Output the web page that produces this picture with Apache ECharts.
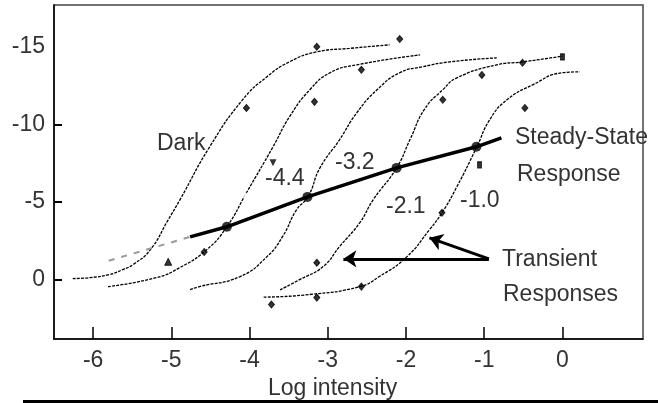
<!DOCTYPE html>
<html>
<head>
<meta charset="UTF-8">
<title>Steady-state and transient responses</title>
<script src="https://cdn.jsdelivr.net/npm/echarts@6/dist/echarts.min.js"></script>
<style>
  *{margin:0;padding:0}
  html,body{width:100%;height:100%;background:#fff}
  #main{width:658px;height:403px}
</style>
</head>
<body>
<div id="main"></div>
<script>
// points: [log intensity, response]
var darkCurve = [[-6.26,-0.05],[-6.04,-0.11],[-5.79,-0.31],[-5.62,-0.63],[-5.49,-0.95],[-5.27,-1.9],[-5.04,-3.84],[-4.89,-5.13],[-4.51,-8.55],[-4.09,-11.58],[-3.78,-13.06],[-3.49,-14.03],[-3.14,-14.68],[-2.72,-14.9],[-2.21,-15.13]];
var curve44 = [[-5.81,0.47],[-5.19,-0.11],[-4.89,-0.76],[-4.55,-1.9],[-4.29,-3.39],[-4.04,-5.58],[-3.7,-8.55],[-3.49,-10.48],[-3.23,-12.23],[-2.97,-13.33],[-2.63,-13.84],[-1.82,-14.48]];
var curve32 = [[-4.76,0.66],[-4.64,0.47],[-4.12,-0.18],[-3.78,-1.45],[-3.58,-2.74],[-3.4,-4.48],[-3.25,-5.35],[-3.1,-7.19],[-2.85,-9.0],[-2.63,-10.74],[-2.37,-12.23],[-2.08,-13.33],[-1.79,-13.71],[-1.44,-14.03],[-0.84,-14.29]];
var curve21 = [[-3.61,0.68],[-3.36,0.02],[-3.06,-0.82],[-2.85,-2.11],[-2.59,-3.66],[-2.42,-5.13],[-2.12,-7.19],[-1.95,-9.0],[-1.76,-11.0],[-1.53,-12.23],[-1.35,-13.0],[-0.84,-13.84],[-0.51,-14.03],[0.0,-14.4]];
var curve10 = [[-3.82,1.15],[-3.23,0.98],[-2.59,0.47],[-2.34,-0.18],[-1.99,-1.45],[-1.7,-3.2],[-1.54,-4.29],[-1.35,-5.97],[-1.1,-8.48],[-0.93,-10.29],[-0.71,-11.58],[-0.38,-12.55],[0.0,-13.33],[0.22,-13.39]];

var diamondPts = [[-4.58,-1.77],[-4.04,-11.06],[-3.14,-15.0],[-2.08,-15.5],[-3.17,-11.45],[-2.57,-13.52],[-3.14,-1.07],[-3.14,1.18],[-1.53,-11.58],[-1.03,-13.19],[-0.51,-13.97],[-0.48,-11.06],[-1.54,-4.29],[-2.57,0.47],[-3.72,1.63]];
var circlePts = [[-4.02,-5.32],[-3.7,-12.87]];
var triUpPts = [[-5.04,-1.13]];
var triDownPts = [[-3.7,-7.52]];
var squarePts = [[-1.06,-7.39],[0.0,-14.35]];

var steadyLine = [[-4.76,-2.74],[-4.29,-3.39],[-3.26,-5.32],[-2.12,-7.19],[-1.1,-8.55],[-0.78,-9.13]];
var steadyDots = [[-4.29,-3.39],[-3.26,-5.32],[-2.12,-7.19],[-1.1,-8.55]];
var steadyDashed = [[-5.8,-1.2],[-4.76,-2.74]];

var arrowStart = [-0.94,-1.32];
var arrowTips = [[-2.8,-1.32],[-1.7,-2.68]];

var xTicks = [-6,-5,-4,-3,-2,-1,0];
var yTicks = [-15,-10,-5,0];
var yTickMarks = [-10,-5,0];

var FONT = "'Liberation Sans', Arial, sans-serif";

function curve(data) {
  return {
    type: 'line', data: data, showSymbol: false, smooth: 0.5,
    lineStyle: {color: '#000', width: 1.3, type: [3, 1.2]}, z: 2
  };
}
function marks(data, symbol, size) {
  return {
    type: 'scatter', data: data, symbol: symbol, symbolSize: size,
    itemStyle: {color: '#000', borderColor: '#000', borderWidth: 1}, z: 3
  };
}
function label(text, x, y) {
  return {
    type: 'text', x: x, y: y,
    style: {text: text, font: '23px ' + FONT, fill: '#333', verticalAlign: 'middle', textVerticalAlign: 'middle'}
  };
}

var option = {
  animation: false,
  grid: {left: 54, top: 5, right: 15, bottom: 64, show: true, borderColor: '#444', borderWidth: 1.5},
  xAxis: {
    type: 'value', min: -6.5, max: 1.03,
    axisLine: {onZero: false, lineStyle: {color: '#000', width: 1.5}},
    axisTick: {inside: true, length: 12, customValues: xTicks, lineStyle: {color: '#000', width: 1.5}},
    axisLabel: {customValues: xTicks, margin: 10, fontSize: 23, color: '#333', fontFamily: FONT},
    splitLine: {show: false}
  },
  yAxis: {
    type: 'value', inverse: true, min: -17.7, max: 3.85,
    axisLine: {onZero: false, lineStyle: {color: '#000', width: 1.5}},
    axisTick: {inside: true, length: 8, customValues: yTickMarks, lineStyle: {color: '#000', width: 2}},
    axisLabel: {customValues: yTicks, margin: 9, fontSize: 23, color: '#333', fontFamily: FONT},
    splitLine: {show: false}
  },
  series: [
    curve(darkCurve), curve(curve44), curve(curve32), curve(curve21), curve(curve10),
    marks(diamondPts, 'diamond', [6, 7]),
    {type: 'scatter', data: circlePts, symbol: 'emptyCircle', symbolSize: 7,
     itemStyle: {color: '#fff', borderColor: '#000', borderWidth: 1.5}, z: 3},
    marks(triUpPts, 'triangle', 7),
    {type: 'scatter', data: triDownPts, symbol: 'triangle', symbolRotate: 180, symbolSize: 7,
     itemStyle: {color: '#000'}, z: 3},
    marks(squarePts, 'rect', [4, 6]),
    {type: 'line', data: steadyDashed, showSymbol: false,
     lineStyle: {color: '#999', width: 2, type: [6, 7]}, z: 2},
    {type: 'line', data: steadyLine, showSymbol: false,
     lineStyle: {color: '#000', width: 3.5}, z: 4},
    {type: 'scatter', data: steadyDots, symbol: 'circle', symbolSize: 10,
     itemStyle: {color: '#000'}, z: 5},
    {type: 'lines', coordinateSystem: 'cartesian2d', z: 4,
     symbol: ['none', 'arrow'], symbolSize: 13,
     lineStyle: {color: '#000', width: 3, curveness: 0, opacity: 1},
     data: arrowTips.map(function (t) { return {coords: [arrowStart, t]}; })}
  ],
  graphic: [
    label('Dark', 157, 144),
    label('-4.4', 265, 179),
    label('-3.2', 335, 163),
    label('-2.1', 386, 207),
    label('-1.0', 460, 201),
    label('Steady-State', 515, 138),
    label('Response', 517, 175),
    label('Transient', 502, 260),
    label('Responses', 503, 295),
    label('Log intensity', 268, 389),
    {type: 'rect', shape: {x: 23, y: 400, width: 635, height: 3}, style: {fill: '#000'}}
  ]
};

var myChart = echarts.init(document.getElementById('main'));
myChart.setOption(option);
</script>
</body>
</html>
